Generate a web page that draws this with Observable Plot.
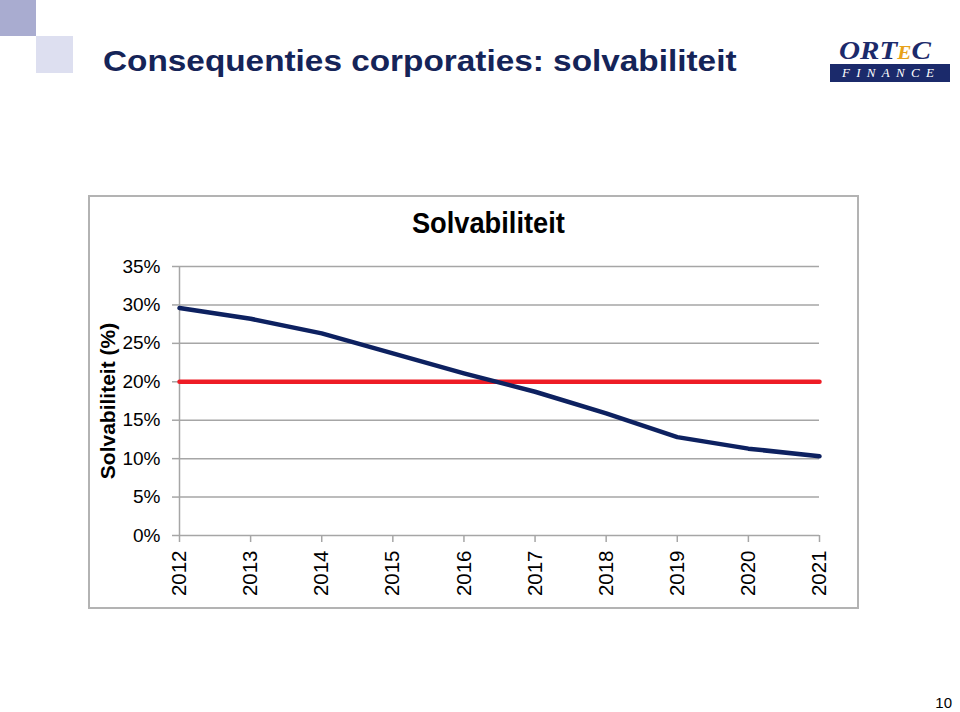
<!DOCTYPE html>
<html>
<head>
<meta charset="utf-8">
<script src="https://cdn.jsdelivr.net/npm/d3@7"></script>
<script src="https://cdn.jsdelivr.net/npm/@observablehq/plot@0.6"></script>
<style>
  html, body { margin: 0; padding: 0; background: #fff; }
  #page { position: relative; width: 960px; height: 712px; overflow: hidden; background: #fff; font-family: "Liberation Sans", Arial, sans-serif; }
  #page svg { position: absolute; left: 0; top: 0; }
  .abs { position: absolute; }
</style>
</head>
<body>
<div id="page">
  <div class="abs" style="left:0;top:0;width:36px;height:36px;background:#a9acd0;"></div>
  <div class="abs" style="left:36px;top:36px;width:37px;height:37px;background:#dddff0;"></div>
  <div class="abs" style="left:103px;top:46px;font-weight:bold;font-size:29.5px;line-height:1;color:#152458;white-space:nowrap;transform:scaleX(1.13);transform-origin:0 0;">Consequenties corporaties: solvabiliteit</div>
  <div class="abs" style="left:839px;top:38px;font-family:'Liberation Serif',serif;font-style:italic;font-weight:bold;font-size:26px;line-height:1;color:#1b2a6b;white-space:nowrap;transform:scaleX(1.12);transform-origin:0 0;">ORT<span style="font-size:19px;color:#e8a21a;">E</span>C</div>
  <div class="abs" style="left:830px;top:64px;width:120px;height:18px;background:#1b2a6b;color:#fff;font-family:'Liberation Serif',serif;font-style:italic;font-size:13px;line-height:18px;letter-spacing:6.3px;text-indent:12px;white-space:nowrap;">FINANCE</div>
  <div class="abs" style="left:88px;top:195px;width:767px;height:410px;border:2px solid #b3b3b3;"></div>
  <div class="abs" style="left:0;width:977px;top:208.5px;text-align:center;">
    <span style="display:inline-block;font-weight:bold;font-size:29px;line-height:1;color:#000;transform:scaleX(0.94);">Solvabiliteit</span>
  </div>
  <div class="abs" style="right:8px;top:694px;font-size:15px;color:#000;">10</div>
</div>
<script>
const years = [2012, 2013, 2014, 2015, 2016, 2017, 2018, 2019, 2020, 2021];
const solvabiliteit = [29.6, 28.2, 26.3, 23.7, 21.1, 18.7, 15.9, 12.8, 11.3, 10.3];
const norm = 20;
const yTicks = [0, 5, 10, 15, 20, 25, 30, 35];
const yLabel = "Solvabiliteit (%)";

const series = years.map((year, i) => ({year, value: solvabiliteit[i]}));
const normLine = years.map(year => ({year, value: norm}));

const grey = "#a6a6a6";
const chart = Plot.plot({
  width: 960,
  height: 712,
  marginLeft: 179,
  marginRight: 141,
  marginTop: 266,
  marginBottom: 177,
  x: {type: "linear", domain: [2012, 2021]},
  y: {domain: [0, 35]},
  style: {fontFamily: "'Liberation Sans', Arial, sans-serif", fontSize: "19px", color: "#000", background: "transparent", overflow: "visible"},
  marks: [
    Plot.gridY(yTicks, {stroke: grey, strokeOpacity: 1, strokeWidth: 1.5}),
    Plot.ruleX([2012], {stroke: grey, strokeWidth: 1.5}),
    Plot.axisY({ticks: yTicks, tickFormat: d => d + "%", tickSize: 7, tickPadding: 12, stroke: grey, strokeWidth: 1.5, fill: "#000", fontSize: 19, label: null}),
    Plot.axisX({ticks: years, tickFormat: d => String(d), tickSize: 7, tickPadding: 8, tickRotate: -90, stroke: grey, strokeWidth: 1.5, fill: "#000", fontSize: 20.5, label: null}),
    Plot.text([yLabel], {frameAnchor: "left", textAnchor: "middle", dx: -71, rotate: -90, fontWeight: "bold", fontSize: 21, fill: "#000", text: d => d}),
    Plot.line(normLine, {x: "year", y: "value", stroke: "#ee1c25", strokeWidth: 4.5}),
    Plot.line(series, {x: "year", y: "value", stroke: "#0d2160", strokeWidth: 4.5, strokeLinejoin: "round", strokeLinecap: "round"})
  ]
});
document.getElementById("page").appendChild(chart);
</script>
</body>
</html>
